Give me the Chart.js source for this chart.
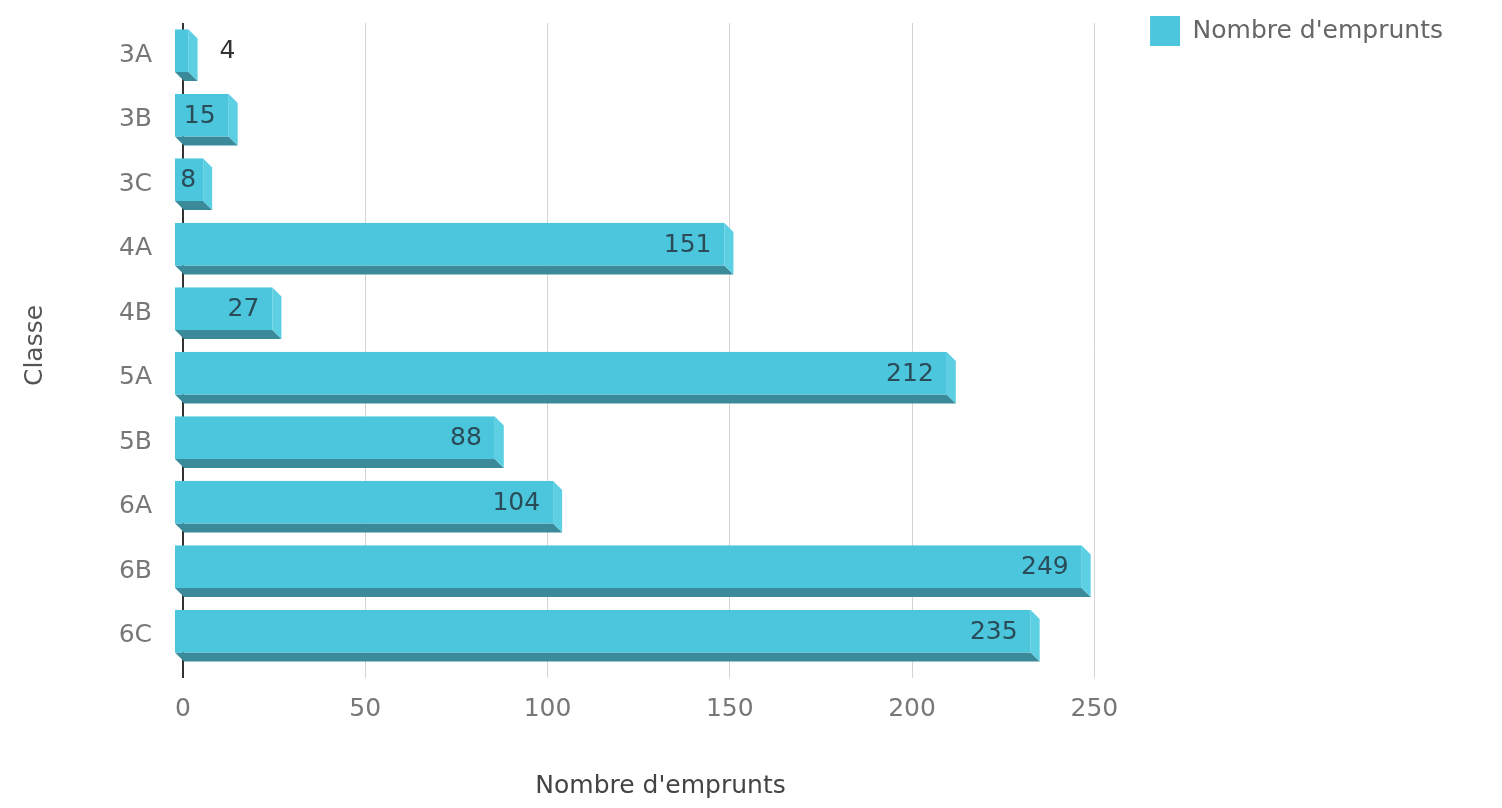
<!DOCTYPE html>
<html>
<head>
<meta charset="utf-8">
<script src="https://cdn.jsdelivr.net/npm/chart.js@4"></script>
<style>
html,body{margin:0;padding:0;background:#fff;}
#wrap{width:1502px;height:808px;position:relative;}
</style>
</head>
<body>
<div id="wrap"><canvas id="c"></canvas></div>
<script>
const categories = ['3A','3B','3C','4A','4B','5A','5B','6A','6B','6C'];
const values = [4, 15, 8, 151, 27, 212, 88, 104, 249, 235];
const xTickValues = [0, 50, 100, 150, 200, 250];
const seriesLabel = "Nombre d'emprunts";
const xTitle = "Nombre d'emprunts";
const yTitle = "Classe";
const xMin = 0, xMax = 262;

const FONT = "'DejaVu Sans', sans-serif";
const FACE = '#4cc6dc', BOTTOM = '#3a8a9a', SIDE = '#5ccfe2';
const DEPTH = 9;

const bar3d = {
  id: 'bar3d',
  beforeDatasetDraw() { return false; },
  afterDatasetsDraw(chart) {
    const ctx = chart.ctx;
    const meta = chart.getDatasetMeta(0);
    const ds = chart.data.datasets[0];
    ctx.save();
    meta.data.forEach((bar, i) => {
      const p = bar.getProps(['x', 'y', 'base', 'height'], true);
      const top = p.y - p.height / 2, bottom = p.y + p.height / 2;
      const x = p.x, b = p.base, d = DEPTH;
      ctx.fillStyle = BOTTOM;
      ctx.beginPath();
      ctx.moveTo(b - d, bottom - d); ctx.lineTo(x - d, bottom - d);
      ctx.lineTo(x, bottom); ctx.lineTo(b, bottom); ctx.closePath(); ctx.fill();
      ctx.fillStyle = SIDE;
      ctx.beginPath();
      ctx.moveTo(x - d, top); ctx.lineTo(x, top + d);
      ctx.lineTo(x, bottom); ctx.lineTo(x - d, bottom - d); ctx.closePath(); ctx.fill();
      ctx.fillStyle = FACE;
      ctx.fillRect(b - d, top, x - b, p.height - d);
      const txt = String(ds.data[i]);
      ctx.font = "25px " + FONT;
      ctx.textBaseline = 'middle';
      const w = ctx.measureText(txt).width;
      const fl = b - d, fr = x - d, cy = top + (p.height - d) / 2 + 1;
      if (w + 6 > fr - fl) {
        ctx.fillStyle = '#333';
        ctx.textAlign = 'left';
        ctx.fillText(txt, fr + 31, cy);
      } else {
        ctx.fillStyle = '#2a4b58';
        const tr = fr - 13;
        if (tr - w < fl + 8) { ctx.textAlign = 'center'; ctx.fillText(txt, (fl + fr) / 2 - 1, cy); }
        else { ctx.textAlign = 'right'; ctx.fillText(txt, tr, cy); }
      }
    });
    ctx.restore();
  }
};

new Chart(document.getElementById('c'), {
  type: 'bar',
  data: {
    labels: categories,
    datasets: [{
      label: seriesLabel,
      data: values,
      backgroundColor: FACE,
      borderWidth: 0,
      barPercentage: 0.8,
      categoryPercentage: 1.0
    }]
  },
  options: {
    indexAxis: 'y',
    responsive: true,
    maintainAspectRatio: false,
    animation: false,
    layout: { padding: { top: 4, left: 0, right: 49, bottom: 0 } },
    plugins: {
      tooltip: { enabled: false },
      legend: {
        position: 'right',
        align: 'start',
        labels: {
          boxWidth: 30, boxHeight: 30,
          color: '#666',
          font: { family: FONT, size: 25 },
          padding: 12
        }
      }
    },
    scales: {
      x: {
        type: 'linear',
        min: xMin, max: xMax,
        afterBuildTicks(scale) {
          scale.ticks = xTickValues.map(v => ({ value: v }));
        },
        afterFit(scale) { scale.height = 140; },
        ticks: { color: '#777', font: { family: FONT, size: 25 }, padding: 16 },
        grid: {
          color: c => (c.tick && c.tick.value === 0) ? '#333' : '#d4d4d4',
          lineWidth: c => (c.tick && c.tick.value === 0) ? 2 : 1,
          tickLength: 10,
          drawTicks: true
        },
        border: { display: false },
        title: { display: true, text: xTitle, color: '#444', font: { family: FONT, size: 25 }, padding: { top: 0, bottom: 7 } }
      },
      y: {
        type: 'category',
        afterFit(scale) { scale.width = 183; },
        ticks: { color: '#777', font: { family: FONT, size: 25 }, padding: 8 },
        grid: { display: false, tickLength: 23 },
        border: { display: false },
        title: { display: true, text: yTitle, color: '#555', font: { family: FONT, size: 25 }, padding: { top: 20, bottom: 0 } }
      }
    }
  },
  plugins: [bar3d]
});
</script>
</body>
</html>
